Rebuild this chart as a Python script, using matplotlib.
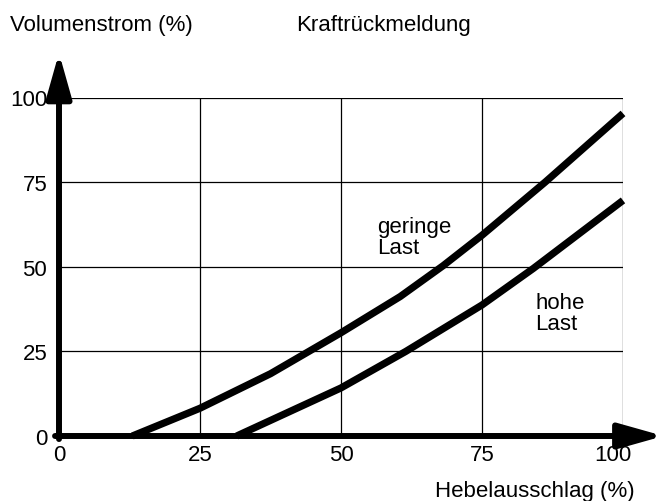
import matplotlib.pyplot as plt
from matplotlib.transforms import ScaledTranslation

plt.rcParams['font.family'] = ['Liberation Sans', 'DejaVu Sans']
plt.rcParams['font.size'] = 16

# -----------------------------
# Kennlinien (Hebelausschlag -> Volumenstrom)
ticks = [0, 25, 50, 75, 100]
tick_labels = ['0', '25', '50', '75', '100']

geringe_x = [13, 25, 37.5, 50, 60.5, 68.1, 75, 86.2, 100]
geringe_y = [0, 8.2, 18.4, 30.5, 41.2, 50.3, 59.3, 75, 95.3]

hohe_x = [31.5, 50, 61.5, 75, 84.1, 100]
hohe_y = [0, 14.2, 25, 38.7, 49.5, 69.6]

# -----------------------------
# Figure and axes
fig = plt.figure(figsize=(6.64, 5.02), dpi=100)
ax = fig.add_axes([59 / 664, 65 / 502, 564 / 664, 338.5 / 502])
ax.set_xlim(0, 100)
ax.set_ylim(0, 100)
for s in ax.spines.values():
    s.set_visible(False)

ax.set_xticks(ticks)
ax.set_xticklabels(tick_labels)
ax.set_yticks(ticks)
ax.set_yticklabels(tick_labels)
ax.tick_params(length=0, labelsize=16)
ax.tick_params(axis='x', pad=5.5)
ax.tick_params(axis='y', pad=8.5)
ax.grid(True, color='black', linewidth=0.9)

# the "100" under the x axis sits a bit left of its grid line
last = ax.get_xticklabels()[-1]
last.set_transform(last.get_transform() + ScaledTranslation(-0.1, 0, fig.dpi_scale_trans))

# Axes with arrows
arrow = dict(arrowstyle='-|>,head_length=1.35,head_width=0.38', color='black',
             lw=4.3, shrinkA=0, shrinkB=0, mutation_scale=20)
ax.annotate('', xy=(107.2, 0), xytext=(-0.7, 0), arrowprops=arrow,
            annotation_clip=False)
ax.annotate('', xy=(0, 113.2), xytext=(0, -0.9), arrowprops=arrow,
            annotation_clip=False)

# Curves
ax.plot(geringe_x, geringe_y, color='black', lw=5.2, solid_capstyle='butt',
        solid_joinstyle='round', clip_on=False)
ax.plot(hohe_x, hohe_y, color='black', lw=5.2, solid_capstyle='butt',
        solid_joinstyle='round', clip_on=False)

# va='baseline' puts the last line on the given height
ax.text(56.4, 54.2, 'geringe\nLast', ha='left', va='baseline', linespacing=1.0)
ax.text(84.4, 31.6, 'hohe\nLast', ha='left', va='baseline', linespacing=1.0)

# Labels
fig.text(10 / 664, 1 - 31 / 502, 'Volumenstrom (%)', ha='left', va='baseline')
fig.text(296 / 664, 1 - 31 / 502, 'Kraftrückmeldung', ha='left', va='baseline')
fig.text(635 / 664, 1 - 497 / 502, 'Hebelausschlag (%)', ha='right', va='baseline')

plt.savefig('out.png', dpi=100)
